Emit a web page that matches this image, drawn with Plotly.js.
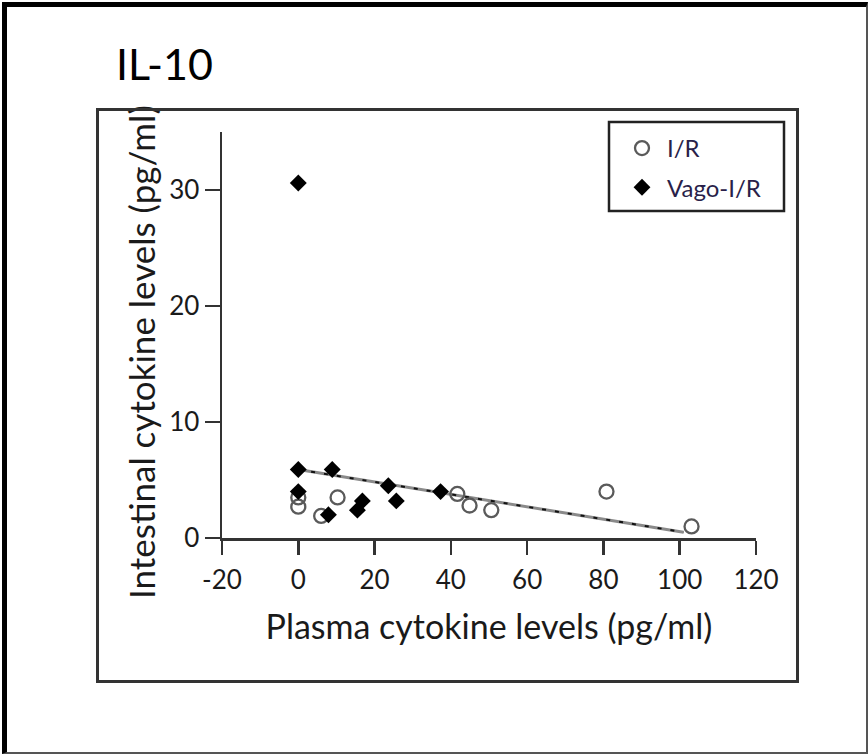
<!DOCTYPE html>
<html>
<head>
<meta charset="utf-8">
<script src="https://cdn.plot.ly/plotly-3.0.1.min.js"></script>
<style>
  html, body { margin: 0; padding: 0; background: #fff; }
  #wrap { position: relative; width: 868px; height: 754px; overflow: hidden; }
  #chart { position: absolute; left: 0; top: 0; width: 868px; height: 754px; }
  #outer { position: absolute; left: 2px; top: 2px; width: 859px; height: 745px;
           border-left: 5px solid #000; border-top: 5px solid #000;
           border-right: 2px solid #555; border-bottom: 2px solid #555; pointer-events: none; }
  #inner { position: absolute; left: 96px; top: 108px; width: 697px; height: 569px;
           border: 3px solid #333; pointer-events: none; }
</style>
</head>
<body>
<div id="wrap">
  <div id="chart"></div>
  <div id="outer"></div>
  <div id="inner"></div>
</div>
<script>
// I/R (open circles)
const irX = [0, 0, 6.0, 10.3, 41.7, 44.9, 50.6, 80.8, 103.1];
const irY = [3.5, 2.7, 1.9, 3.5, 3.8, 2.8, 2.4, 4.0, 1.0];
// Vago-I/R (filled diamonds)
const vagoX = [0, 0, 8.9, 0, 7.9, 15.5, 16.8, 23.6, 25.7, 37.3];
const vagoY = [30.6, 5.9, 5.9, 4.0, 2.0, 2.4, 3.2, 4.5, 3.2, 4.0];
// regression line
const fitX = [0, 101];
const fitY = [5.9, 0.5];

const xTicks = [-20, 0, 20, 40, 60, 80, 100, 120];
const yTicks = [0, 10, 20, 30];

const FONT = 'Lato, "Open Sans", sans-serif';
const ink = '#1a1a1a';

// plot-area pixel helpers (for placing frames/legend only)
const PL = 222, PR = 756, PT = 132, PB = 538;
const px = v => (v - PL) / (PR - PL);
const py = v => (PB - v) / (PB - PT);

const traces = [
  { x: fitX, y: fitY, mode: 'lines', showlegend: false, hoverinfo: 'skip',
    line: { color: '#8a8a8a', width: 3 } },
  { x: fitX, y: fitY, mode: 'lines', showlegend: false, hoverinfo: 'skip',
    line: { color: '#111', width: 2, dash: '4px,9px' } },
  { x: irX, y: irY, mode: 'markers', name: 'I/R', type: 'scatter', legendgroup: 'a',
    marker: { symbol: 'circle-open', size: 14, color: '#5a5a5a', line: { width: 2.3, color: '#5a5a5a' } } },
  { x: vagoX, y: vagoY, mode: 'markers', name: 'Vago-I/R', type: 'scatter', legendgroup: 'b',
    marker: { symbol: 'diamond', size: 13, color: '#000', line: { width: 0 } } }
];

const layout = {
  width: 868, height: 754,
  margin: { l: PL, r: 868 - PR, t: PT, b: 754 - PB },
  paper_bgcolor: '#fff', plot_bgcolor: '#fff',
  font: { family: FONT, color: ink },
  title: { text: 'IL-10', font: { family: FONT, size: 43, color: '#000' },
           xref: 'container', yref: 'container', x: 116/868, xanchor: 'left',
           y: 1 - 65/754, yanchor: 'middle' },
  xaxis: {
    range: [-20, 120], tickvals: xTicks, ticktext: xTicks.map(String),
    showgrid: false, zeroline: false, showline: true, linecolor: '#333', linewidth: 2.5,
    ticks: 'outside', ticklen: 14, tickwidth: 2.5, tickcolor: '#333',
    tickfont: { family: FONT, size: 26, color: ink }, ticklabelstandoff: 3,
    title: { text: 'Plasma cytokine levels (pg/ml)', font: { family: FONT, size: 34, color: ink }, standoff: 22 }
  },
  yaxis: {
    range: [0, 35], tickvals: yTicks, ticktext: yTicks.map(String),
    showgrid: false, zeroline: false, showline: true, linecolor: '#333', linewidth: 2.5,
    ticks: 'outside', ticklen: 15, tickwidth: 2.5, tickcolor: '#333',
    tickfont: { family: FONT, size: 26, color: ink },
    title: { text: '' }
  },
  annotations: [
    { text: 'Intestinal cytokine levels (pg/ml)', textangle: -90, showarrow: false,
      xref: 'paper', yref: 'paper', x: px(141), y: py(352), xanchor: 'center', yanchor: 'middle',
      font: { family: FONT, size: 35, color: ink } }
  ],
  shapes: [
    { type: 'rect', xref: 'paper', yref: 'paper', x0: px(609), x1: px(784), y0: py(211), y1: py(122),
      line: { color: '#222', width: 2.5 }, fillcolor: 'rgba(0,0,0,0)', layer: 'above' }
  ],
  showlegend: true,
  legend: {
    x: px(617), y: py(126), xanchor: 'left', yanchor: 'top',
    bgcolor: 'rgba(0,0,0,0)', borderwidth: 0,
    font: { family: FONT, size: 24, color: '#2a1f4a' },
    tracegroupgap: 5, itemwidth: 40
  }
};

Plotly.newPlot('chart', traces, layout, { displayModeBar: false, staticPlot: true });
</script>
</body>
</html>
